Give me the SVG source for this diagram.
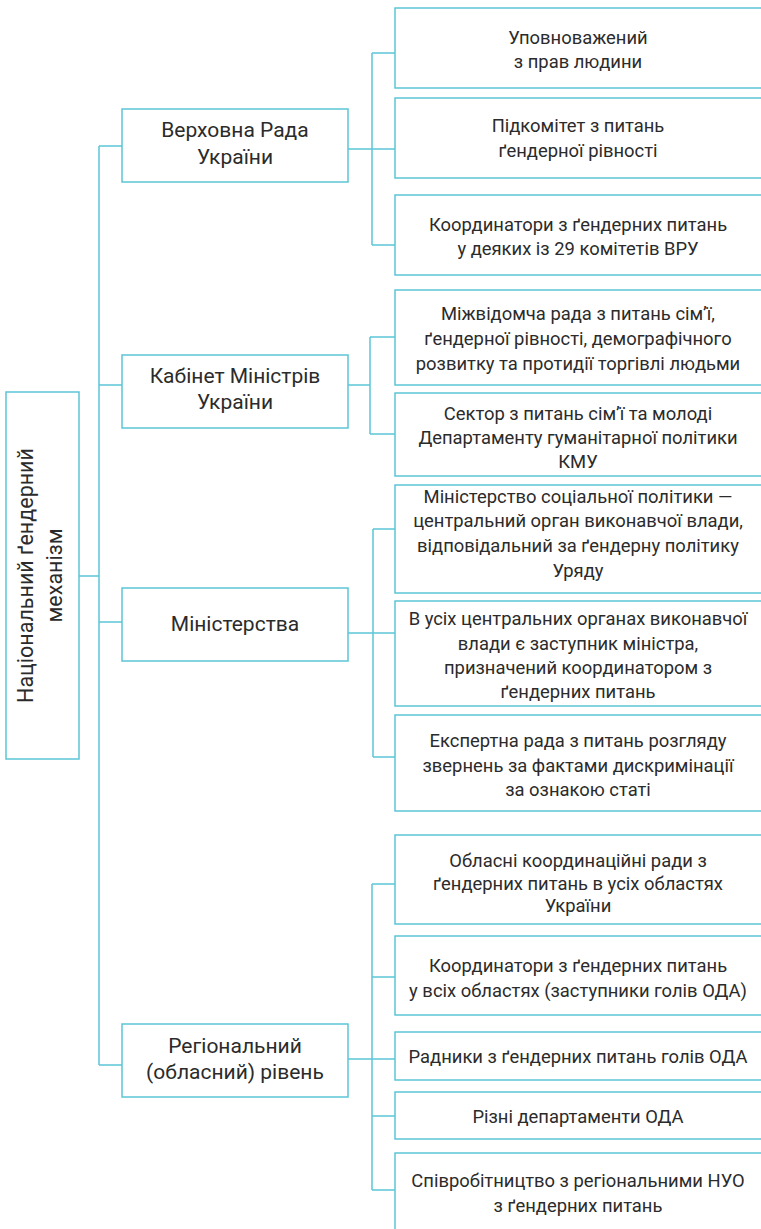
<svg xmlns="http://www.w3.org/2000/svg" width="761" height="1229" viewBox="0 0 761 1229">
<style>
.box{fill:#fff;stroke:#5bc6d6;stroke-width:1.5}
.ln{fill:none;stroke:#5bc6d6;stroke-width:1.5}
text{font-family:Roboto,"Liberation Sans",sans-serif;fill:#2b2b2b;text-anchor:middle}
.l0{font-size:21.5px}
.l1{font-size:21px}
.l2{font-size:18.4px}
</style>
<rect width="761" height="1229" fill="#fff"/>
<g id="connectors">
<path class="ln" d="M79 576H99M99 146V1065M99 146H122M99 385H122M99 622H122M99 1065H122"/>
<path class="ln" d="M348 149H372M372 53V245M372 53H395M372 149H395M372 245H395"/>
<path class="ln" d="M348 385H370M370 337V434M370 337H395M370 434H395"/>
<path class="ln" d="M348 633H373M373 529V757M373 529H395M373 633H395M373 757H395"/>
<path class="ln" d="M348 1059H372M372 884V1190M372 884H395M372 977H395M372 1059H395M372 1116H395M372 1190H395"/>
</g>
<g id="root">
<rect class="box" x="6" y="392" width="73" height="367"/>
<text class="l0" transform="translate(32.5,575.5) rotate(-90)">Національний ґендерний</text>
<text class="l0" transform="translate(61.5,575.5) rotate(-90)">механізм</text>
</g>
<g id="vr">
<rect class="box" x="122" y="109" width="226" height="73"/>
<text class="l1" x="235" y="137">Верховна Рада</text>
<text class="l1" x="235" y="164">України</text>
</g>
<g id="km">
<rect class="box" x="122" y="355" width="226" height="73"/>
<text class="l1" x="235" y="383">Кабінет Міністрів</text>
<text class="l1" x="235" y="409">України</text>
</g>
<g id="min">
<rect class="box" x="122" y="588" width="226" height="73"/>
<text class="l1" x="235" y="631">Міністерства</text>
</g>
<g id="reg">
<rect class="box" x="122" y="1024" width="226" height="73"/>
<text class="l1" x="235" y="1053">Регіональний</text>
<text class="l1" x="235" y="1079">(обласний) рівень</text>
</g>
<g id="vr1">
<rect class="box" x="395" y="8" width="370" height="80"/>
<text class="l2" x="578" y="44">Уповноважений</text>
<text class="l2" x="578" y="68">з прав людини</text>
</g>
<g id="vr2">
<rect class="box" x="395" y="98" width="370" height="80"/>
<text class="l2" x="578" y="132">Підкомітет з питань</text>
<text class="l2" x="578" y="157">ґендерної рівності</text>
</g>
<g id="vr3">
<rect class="box" x="395" y="195" width="370" height="80"/>
<text class="l2" x="578" y="231">Координатори з ґендерних питань</text>
<text class="l2" x="578" y="255">у деяких із 29 комітетів ВРУ</text>
</g>
<g id="km1">
<rect class="box" x="395" y="290" width="370" height="95"/>
<text class="l2" x="578" y="320">Міжвідомча рада з питань сім’ї,</text>
<text class="l2" x="578" y="345">ґендерної рівності, демографічного</text>
<text class="l2" x="578" y="370">розвитку та протидії торгівлі людьми</text>
</g>
<g id="km2">
<rect class="box" x="395" y="393" width="370" height="83"/>
<text class="l2" x="578" y="420">Сектор з питань сім’ї та молоді</text>
<text class="l2" x="578" y="444">Департаменту гуманітарної політики</text>
<text class="l2" x="578" y="468">КМУ</text>
</g>
<g id="min1">
<rect class="box" x="395" y="485" width="370" height="108"/>
<text class="l2" x="578" y="503">Міністерство соціальної політики —</text>
<text class="l2" x="578" y="527">центральний орган виконавчої влади,</text>
<text class="l2" x="578" y="552">відповідальний за ґендерну політику</text>
<text class="l2" x="578" y="577">Уряду</text>
</g>
<g id="min2">
<rect class="box" x="395" y="601" width="370" height="105"/>
<text class="l2" x="578" y="625">В усіх центральних органах виконавчої</text>
<text class="l2" x="578" y="650">влади є заступник міністра,</text>
<text class="l2" x="578" y="674">призначений координатором з</text>
<text class="l2" x="578" y="698">ґендерних питань</text>
</g>
<g id="min3">
<rect class="box" x="395" y="715" width="370" height="96"/>
<text class="l2" x="578" y="747">Експертна рада з питань розгляду</text>
<text class="l2" x="578" y="772">звернень за фактами дискримінації</text>
<text class="l2" x="578" y="796">за ознакою статі</text>
</g>
<g id="reg1">
<rect class="box" x="395" y="835" width="370" height="89"/>
<text class="l2" x="578" y="867">Обласні координаційні ради з</text>
<text class="l2" x="578" y="890">ґендерних питань в усіх областях</text>
<text class="l2" x="578" y="912">України</text>
</g>
<g id="reg2">
<rect class="box" x="395" y="936" width="370" height="79"/>
<text class="l2" x="578" y="972">Координатори з ґендерних питань</text>
<text class="l2" x="578" y="997">у всіх областях (заступники голів ОДА)</text>
</g>
<g id="reg3">
<rect class="box" x="395" y="1032" width="370" height="48"/>
<text class="l2" x="578" y="1063">Радники з ґендерних питань голів ОДА</text>
</g>
<g id="reg4">
<rect class="box" x="395" y="1092" width="370" height="47"/>
<text class="l2" x="578" y="1123">Різні департаменти ОДА</text>
</g>
<g id="reg5">
<rect class="box" x="395" y="1153" width="370" height="90"/>
<text class="l2" x="578" y="1187">Співробітництво з регіональними НУО</text>
<text class="l2" x="578" y="1212">з ґендерних питань</text>
</g>
</svg>
